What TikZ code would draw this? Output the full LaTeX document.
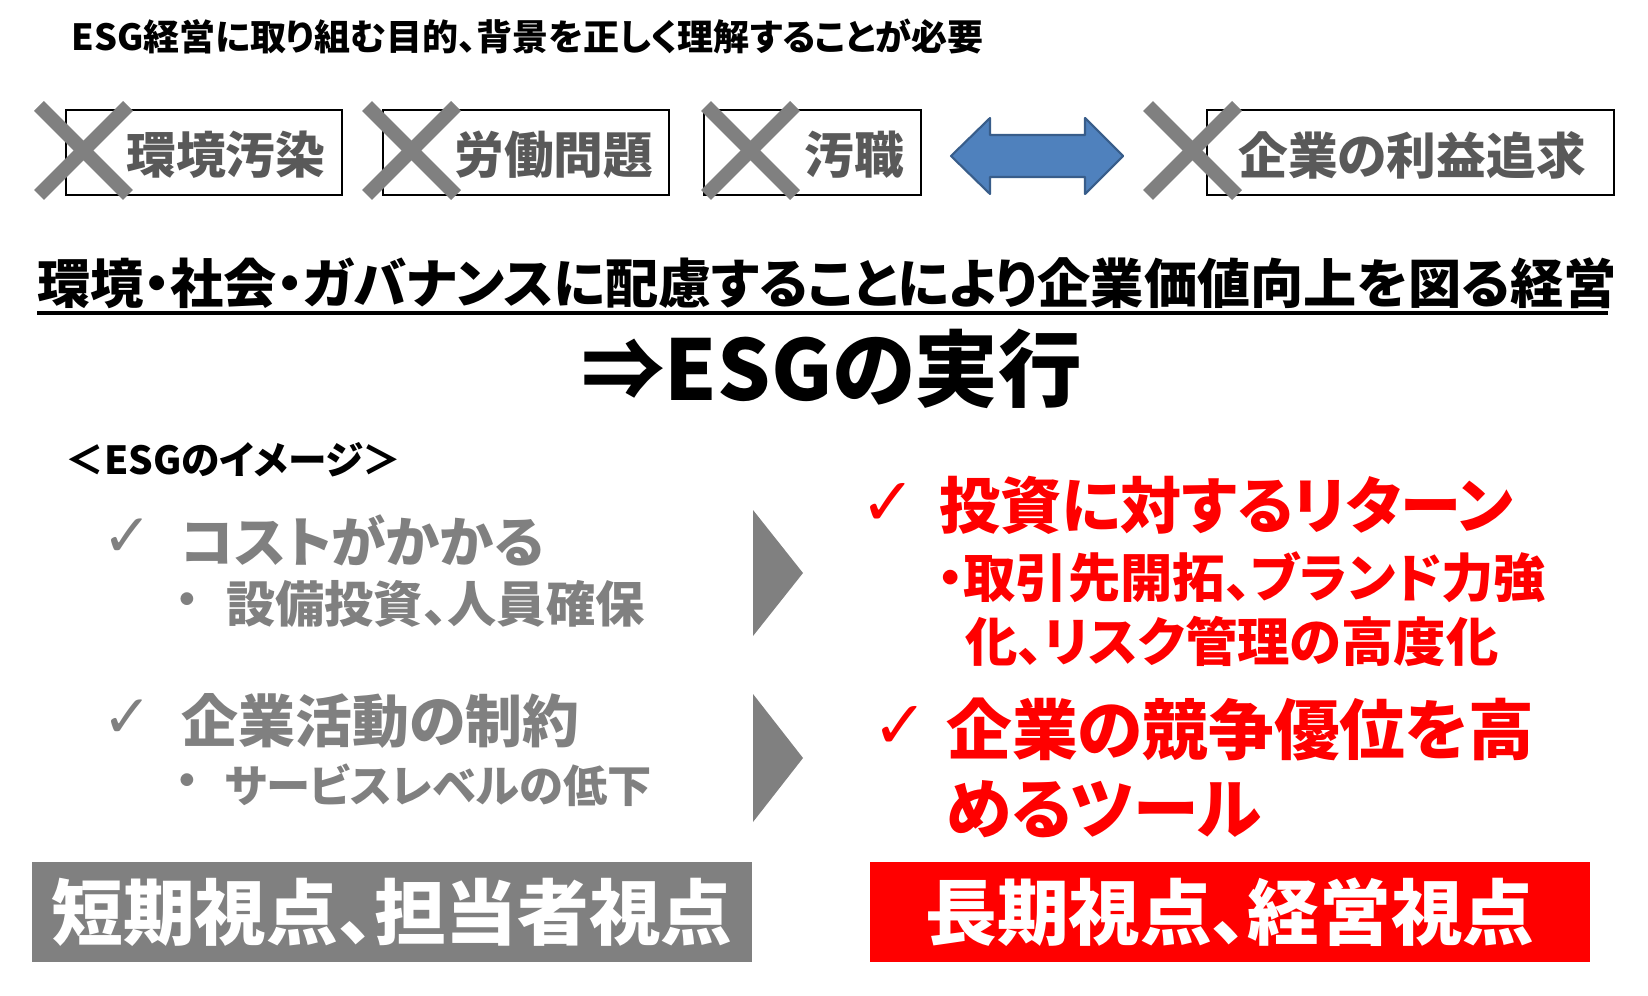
\documentclass[tikz,border=0pt]{standalone}
\usepackage{fontspec}
\setmainfont{Noto Sans CJK JP}[RawFeature=+palt]
\newfontfamily\symf{DejaVu Sans}
\definecolor{labelgray}{HTML}{595959}
\definecolor{midgray}{HTML}{808080}
\definecolor{xgray}{HTML}{808080}
\definecolor{arrowblue}{HTML}{4F81BD}
\definecolor{arrowedge}{HTML}{385D8A}
\definecolor{esgred}{HTML}{FF0000}
\tikzset{
  txt/.style={anchor=west, inner sep=0pt, font=\bfseries},
  lbox/.style={draw=black, line width=1pt, fill=white, inner sep=0pt},
  xmark/.style={draw=xgray, line width=7.9pt},
  tri/.style={fill=midgray},
  chk/.style={anchor=center, inner sep=0pt},
  botbox/.style={inner sep=0pt, minimum width=14.4cm, minimum height=2cm, text=white, font=\bfseries\fontsize{40.8pt}{44pt}\selectfont}
}
\begin{document}
\begin{tikzpicture}[x=0.02cm, y=-0.02cm]
\useasboundingbox (0,0) rectangle (1648,996);
% title
\node[txt, font=\bfseries\fontsize{20.5pt}{23pt}\selectfont] (title) at (71,37) {ESG経営に取り組む目的、背景を正しく理解することが必要};
% boxes
\node[lbox, minimum width=5.52cm, minimum height=1.7cm] (b1) at (204,152.5) {};
\node[lbox, minimum width=5.72cm, minimum height=1.7cm] (b2) at (526,152.5) {};
\node[lbox, minimum width=4.34cm, minimum height=1.7cm] (b3) at (812.5,152.5) {};
\node[lbox, minimum width=8.14cm, minimum height=1.7cm] (b4) at (1410.5,152.5) {};
% crosses
\foreach \x in {34,362,701,1143}{
  \draw[xmark] (\x+5,106) -- (\x+94,195);
  \draw[xmark] (\x+94,106) -- (\x+5,195);
}
\tikzset{blab/.style={txt, text=labelgray, font=\bfseries\fontsize{28.3pt}{30pt}\selectfont}}
\node[blab] (l1) at (126,155) {環境汚染};
\node[blab] (l2) at (454,155) {労働問題};
\node[blab] (l3) at (804,155) {汚職};
\node[blab] (l4) at (1238,155) {企業の利益追求};
% double arrow
\filldraw[fill=arrowblue, draw=arrowedge, line width=1.2pt, line join=round]
  (951,156) -- (990,118) -- (990,135) -- (1085,135) -- (1085,118) -- (1123,156)
  -- (1085,194) -- (1085,177) -- (990,177) -- (990,194) -- cycle;
% heading
\node[txt, font=\bfseries\fontsize{30.3pt}{33pt}\selectfont] (head) at (37,283) {環境・社会・ガバナンスに配慮することにより企業価値向上を図る経営};
\draw[line width=1.8pt] (37,313) -- (1608,313);
\node[txt, font=\bfseries\fontsize{47.6pt}{50pt}\selectfont] (esg) at (581,369) {⇒ESGの実行};
% image label
\node[txt, font=\bfseries\fontsize{22pt}{24pt}\selectfont] (img) at (65,460) {＜ESGのイメージ＞};
% left column
\tikzset{gmain/.style={txt, text=midgray, font=\bfseries\fontsize{31pt}{34pt}\selectfont},
         gsub/.style={txt, text=midgray, font=\bfseries\fontsize{28pt}{30pt}\selectfont},
         gchk/.style={chk, text=midgray, font=\symf\fontsize{34pt}{36pt}\selectfont},
         rchk/.style={chk, text=esgred, font=\symf\fontsize{38pt}{40pt}\selectfont},
         gdot/.style={chk, text=midgray, font=\bfseries\fontsize{26pt}{28pt}\selectfont}}
\node[gchk] (c1) at (128,538) {✓};
\node[gmain] (g1) at (181,540) {コストがかかる};
\node[gdot] (d1) at (187,605) {・};
\node[gsub] (g1s) at (226,604) {設備投資、人員確保};
\node[gchk] (c2) at (128,719) {✓};
\node[gmain, font=\bfseries\fontsize{32.4pt}{34pt}\selectfont] (g2) at (181,721) {企業活動の制約};
\node[gdot] (d2) at (187,786) {・};
\node[gsub, font=\bfseries\fontsize{25.2pt}{28pt}\selectfont] (g2s) at (224,785) {サービスレベルの低下};
% triangles
\fill[midgray] (753,510) -- (803,573) -- (753,636) -- cycle;
\fill[midgray] (753,694) -- (803,758) -- (753,822) -- cycle;
% right column
\node[rchk] (r1c) at (888,504) {✓};
\node[txt, text=esgred, font=\bfseries\fontsize{34.8pt}{38pt}\selectfont] (r1) at (939,505) {投資に対するリターン};
\node[txt, text=esgred, font=\bfseries\fontsize{29.8pt}{30pt}\selectfont] (r1a) at (937,577) {・取引先開拓、ブランド力強};
\node[txt, text=esgred, font=\bfseries\fontsize{29.8pt}{30pt}\selectfont] (r1b) at (965,641) {化、リスク管理の高度化};
\node[rchk] (r2c) at (900,727) {✓};
\node[txt, text=esgred, font=\bfseries\fontsize{37.4pt}{40pt}\selectfont] (r2) at (946,729) {企業の競争優位を高};
\node[txt, text=esgred, font=\bfseries\fontsize{37.4pt}{40pt}\selectfont] (r2b) at (946,809) {めるツール};
% bottom boxes
\node[botbox, fill=midgray] (short) at (392,912) {短期視点、担当者視点};
\node[botbox, fill=esgred] (long) at (1230,912) {長期視点、経営視点};
\end{tikzpicture}
\end{document}
